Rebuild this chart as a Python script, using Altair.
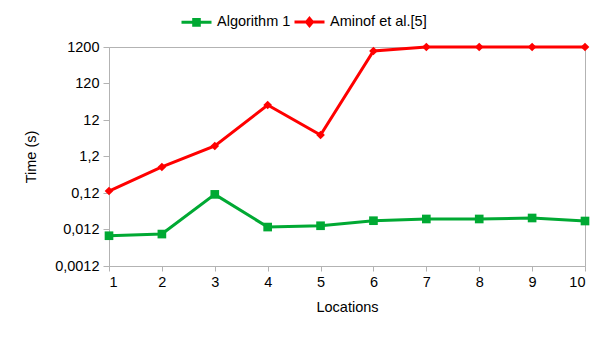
import altair as alt
import pandas as pd

locations = [1, 2, 3, 4, 5, 6, 7, 8, 9, 10]
algorithm1 = [0.0081, 0.0090, 0.110, 0.0140, 0.0152, 0.0209, 0.0233, 0.0233, 0.0248, 0.0205]
aminof = [0.136, 0.62, 2.33, 30.9, 4.65, 930, 1200, 1200, 1200, 1200]
series_names = ["Algorithm 1", "Aminof et al.[5]"]
y_ticks = [0.0012, 0.012, 0.12, 1.2, 12, 120, 1200]
colors = ["#00a933", "#ff0000"]

df = pd.DataFrame({
    "Locations": locations * 2,
    "Time": algorithm1 + aminof,
    "series": [series_names[0]] * len(locations) + [series_names[1]] * len(locations),
})

FONT = "Liberation Sans"
FS = 14.5
legend = alt.Legend(orient="none", direction="horizontal", legendX=76, legendY=-37,
                    title=None, symbolSize=400, symbolStrokeWidth=3,
                    symbolOpacity=1, labelFontSize=FS, labelFont=FONT,
                    labelColor="#000000", columnPadding=-3, labelOffset=9)
color = alt.Color("series:N", scale=alt.Scale(domain=series_names, range=colors), legend=legend)

x = alt.X("Locations:Q", scale=alt.Scale(domain=[1, 10], nice=False),
          axis=alt.Axis(values=locations, title="Locations", grid=False, tickSize=5,
                        labelPadding=4, titlePadding=12, format="d"))
y = alt.Y("Time:Q", scale=alt.Scale(type="log", domain=[0.0012, 1200], nice=False),
          axis=alt.Axis(values=y_ticks, title="Time (s)", grid=False, tickSize=6,
                        labelPadding=4, titlePadding=16,
                        labelExpr="replace(format(datum.value, '~g'), '.', ',')"))

base = alt.Chart(df)
lines = base.mark_line(strokeWidth=3).encode(x=x, y=y, color=color)
pts_a = base.transform_filter(alt.datum.series == series_names[0]).mark_point(
    filled=True, size=75, opacity=1, shape="square").encode(x=x, y=y, color=color)
pts_b = base.transform_filter(alt.datum.series == series_names[1]).mark_point(
    filled=True, size=75, opacity=1, shape="diamond").encode(x=x, y=y, color=color)
legend_paths = [
    "M-1.5,0H1.5M-0.28,-0.28H0.28V0.28H-0.28Z",
    "M-1.5,0H1.5M0,-0.36L0.3,0L0,0.36L-0.3,0Z",
]
legend_layer = base.mark_point(filled=True, opacity=0).encode(
    x=x, y=y, color=color,
    shape=alt.Shape("series:N", scale=alt.Scale(domain=series_names, range=legend_paths), legend=legend),
)

chart = alt.layer(lines, pts_a, pts_b, legend_layer).properties(
    width=476, height=219,
    autosize=alt.AutoSizeParams(type="none"),
    padding={"left": 101, "top": 39, "right": 12, "bottom": 60},
).configure_view(stroke="#b3b3b3", strokeWidth=1).configure_axis(
    domainColor="#b3b3b3", tickColor="#b3b3b3", labelFont=FONT, titleFont=FONT,
    labelFontSize=FS, titleFontSize=FS, titleFontWeight="normal", labelColor="#000000",
    titleColor="#000000",
)

chart.save("out.html", embed_options={"renderer": "svg", "actions": False})
